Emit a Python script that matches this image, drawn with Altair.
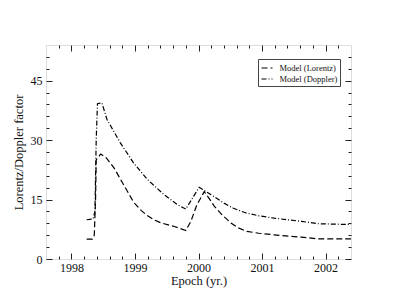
import altair as alt
import pandas as pd

# ---- data ----
lor_x = [1998.24, 1998.33, 1998.36, 1998.38, 1998.39, 1998.46, 1998.55, 1998.67, 1998.83,
         1998.98, 1999.10, 1999.20, 1999.30, 1999.41, 1999.62, 1999.80, 1999.88, 1999.97,
         2000.09, 2000.18, 2000.25, 2000.38, 2000.51, 2000.62, 2000.75, 2000.95, 2001.19,
         2001.62, 2001.88, 2002.40]
lor_y = [5.0, 5.0, 6.0, 15.0, 25.0, 26.5, 25.5, 23.0, 18.5,
         14.3, 12.2, 10.9, 9.9, 9.1, 8.2, 7.2, 9.5, 13.5,
         17.0, 15.0, 13.3, 11.0, 9.1, 7.9, 7.0, 6.5, 6.1,
         5.5, 5.1, 5.1]

dop_x = [1998.24, 1998.34, 1998.37, 1998.39, 1998.41, 1998.48, 1998.56, 1998.77, 1998.98,
         1999.20, 1999.46, 1999.67, 1999.80, 2000.01, 2000.20, 2000.40, 2000.55, 2000.75,
         2000.95, 2001.19, 2001.62, 2001.88, 2002.40]
dop_y = [9.9, 10.1, 12.0, 30.0, 39.2, 39.4, 35.2, 29.3, 24.2,
         20.0, 16.2, 13.7, 12.6, 18.1, 16.2, 14.1, 12.8, 11.6,
         10.9, 10.3, 9.5, 8.9, 8.7]

series_names = ["Model (Lorentz)", "Model (Doppler)"]
dash_styles = [[6, 3], [5, 2, 1, 2]]

x_major = [1998, 1999, 2000, 2001, 2002]
x_minor = [1997.8, 1998.2, 1998.4, 1998.6, 1998.8, 1999.2, 1999.4, 1999.6, 1999.8,
           2000.2, 2000.4, 2000.6, 2000.8, 2001.2, 2001.4, 2001.6, 2001.8, 2002.2]
y_major = [0, 15, 30, 45]
y_minor = [3, 6, 9, 12, 18, 21, 24, 27, 33, 36, 39, 42, 48, 51]

x_domain = [1997.6, 2002.4]
y_domain = [0, 54]

rows = []
for i, (xs, ys) in enumerate([(lor_x, lor_y), (dop_x, dop_y)]):
    for k, (a, b) in enumerate(zip(xs, ys)):
        rows.append({"series": series_names[i], "x": a, "y": b, "k": k})
df = pd.DataFrame(rows)

FONT = "Liberation Serif"
MAJ = 6
MIN = 3

xs = alt.Scale(domain=x_domain, nice=False, zero=False)
ys = alt.Scale(domain=y_domain, nice=False, zero=False)


def xaxis(orient, values, size, labels, title=None):
    kw = dict(orient=orient, values=values, tickSize=size, offset=-size, domain=False,
              grid=False, labels=labels, tickColor="#222", tickWidth=1)
    if labels:
        kw.update(labelFont=FONT, labelFontSize=12, labelColor="#111", labelPadding=3,
                  format="d", labelFlush=False)
    if title:
        kw.update(title=title, titleFont=FONT, titleFontSize=12.5, titleFontWeight="normal",
                  titleColor="#111", titlePadding=1)
    else:
        kw.update(title=None)
    return alt.Axis(**kw)


def yaxis(orient, values, size, labels, title=None):
    kw = dict(orient=orient, values=values, tickSize=size, offset=-size, domain=False,
              grid=False, labels=labels, tickColor="#222", tickWidth=1)
    if labels:
        kw.update(labelFont=FONT, labelFontSize=12, labelColor="#111", labelPadding=4,
                  format="d", labelFlush=False)
    if title:
        kw.update(title=title, titleFont=FONT, titleFontSize=12.5, titleFontWeight="normal",
                  titleColor="#111", titlePadding=5)
    else:
        kw.update(title=None)
    return alt.Axis(**kw)


base = alt.Chart(df)

main = base.mark_line(color="black", strokeWidth=1.2, clip=True).encode(
    x=alt.X("x:Q", scale=xs, axis=xaxis("bottom", x_major, MAJ, True, "Epoch (yr.)")),
    y=alt.Y("y:Q", scale=ys, axis=yaxis("left", y_major, MAJ, True, "Lorentz/Doppler factor")),
    strokeDash=alt.StrokeDash(
        "series:N",
        scale=alt.Scale(domain=series_names, range=dash_styles),
        legend=alt.Legend(
            title=None, orient="none", legendX=212, legendY=14,
            labelFont=FONT, labelFontSize=8.5, labelColor="#111", labelOffset=6,
            symbolType="stroke", symbolSize=121, symbolStrokeWidth=1.2,
            symbolStrokeColor="black", rowPadding=0,
            strokeColor="#444", fillColor="white", padding=2.5,
        ),
    ),
    order="k:Q",
)


def ghost(xo, xv, xsz, yo, yv, ysz):
    return base.mark_line(opacity=0).encode(
        x=alt.X("x:Q", scale=xs, axis=xaxis(xo, xv, xsz, False)),
        y=alt.Y("y:Q", scale=ys, axis=yaxis(yo, yv, ysz, False)),
        detail="series:N",
    )


chart = alt.layer(
    main,
    ghost("bottom", x_minor, MIN, "left", y_minor, MIN),
    ghost("top", x_major, MAJ, "right", y_major, MAJ),
    ghost("top", x_minor, MIN, "right", y_minor, MIN),
).resolve_axis(x="independent", y="independent").properties(
    width=305, height=214,
    autosize=alt.AutoSizeParams(type="none"),
    padding={"left": 38, "top": 37, "right": 36, "bottom": 38},
).configure_view(stroke="#333", strokeWidth=1).configure(background="white")

chart.save("out.html", embed_options={"renderer": "svg", "actions": False})
